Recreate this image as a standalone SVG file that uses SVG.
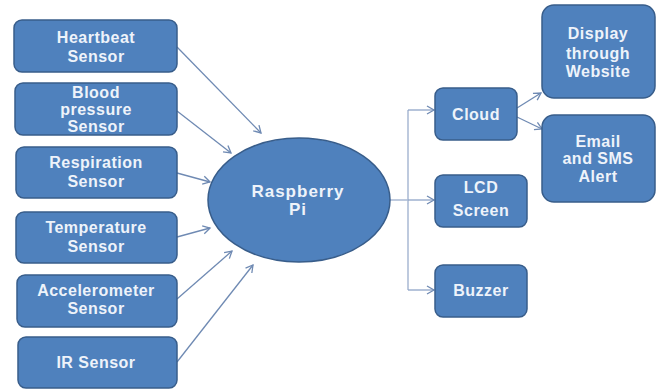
<svg xmlns="http://www.w3.org/2000/svg" width="662" height="390" viewBox="0 0 662 390">
<style>
.box{fill:#4f81bd;stroke:#385d8a;stroke-width:1.5}
.t{font-family:"Liberation Sans",Arial,sans-serif;font-weight:bold;font-size:16px;letter-spacing:0.5px;fill:#eef3fa;text-anchor:middle}
.big{font-size:17px;letter-spacing:1px}
.c{stroke:#6f8ab3;stroke-width:1.3;fill:none;marker-end:url(#a)}
.c2{stroke:#a9b9d3;stroke-width:1.5;fill:none}
.c3{stroke:#8fa5c8;stroke-width:1.3;fill:none;marker-end:url(#a)}
</style>
<defs>
<marker id="a" markerWidth="10" markerHeight="10" refX="8" refY="5" orient="auto" markerUnits="userSpaceOnUse">
<path d="M1,1 L8,5 L1,9" fill="none" stroke="#6f8ab3" stroke-width="1.3"/>
</marker>
</defs>
<rect width="662" height="390" fill="#fff"/>
<g id="connectors">
<line class="c" x1="177" y1="47" x2="261" y2="133"/>
<line class="c" x1="177" y1="111" x2="231" y2="153"/>
<line class="c" x1="177" y1="173" x2="210" y2="182"/>
<line class="c" x1="177" y1="237" x2="210" y2="228"/>
<line class="c" x1="177" y1="299" x2="232" y2="251"/>
<line class="c" x1="177" y1="362" x2="253" y2="265"/>
<path class="c2" d="M390,200 H408 M408,110 V290"/>
<line class="c3" x1="408" y1="110" x2="434" y2="110"/>
<line class="c3" x1="408" y1="200" x2="434" y2="200"/>
<line class="c3" x1="408" y1="290" x2="434" y2="290"/>
<line class="c" x1="517" y1="108" x2="541" y2="93"/>
<line class="c" x1="517" y1="117" x2="542" y2="129"/>
</g>
<g id="heartbeat"><rect class="box" x="14" y="20" width="163" height="52" rx="8"/><text class="t" x="96" y="43">Heartbeat</text><text class="t" x="96" y="62">Sensor</text></g>
<g id="blood"><rect class="box" x="15" y="83" width="162" height="52" rx="8"/><text class="t" x="96" y="98">Blood</text><text class="t" x="96" y="115">pressure</text><text class="t" x="96" y="132">Sensor</text></g>
<g id="respiration"><rect class="box" x="16" y="147" width="161" height="51" rx="8"/><text class="t" x="96" y="168">Respiration</text><text class="t" x="96" y="187">Sensor</text></g>
<g id="temperature"><rect class="box" x="16" y="212" width="161" height="51" rx="8"/><text class="t" x="96" y="233">Temperature</text><text class="t" x="96" y="252">Sensor</text></g>
<g id="accelerometer"><rect class="box" x="17" y="275" width="160" height="52" rx="8"/><text class="t" x="96" y="296">Accelerometer</text><text class="t" x="96" y="314">Sensor</text></g>
<g id="ir"><rect class="box" x="18" y="337" width="159" height="51" rx="8"/><text class="t" x="96" y="368">IR Sensor</text></g>
<g id="raspberry"><ellipse class="box" cx="299" cy="200" rx="91" ry="62"/><text class="t big" x="298" y="197">Raspberry</text><text class="t big" x="298" y="215">Pi</text></g>
<g id="cloud"><rect class="box" x="435" y="88" width="82" height="52" rx="8"/><text class="t" x="476" y="120">Cloud</text></g>
<g id="lcd"><rect class="box" x="435" y="175" width="92" height="52" rx="8"/><text class="t" x="481" y="193">LCD</text><text class="t" x="481" y="216">Screen</text></g>
<g id="buzzer"><rect class="box" x="435" y="265" width="92" height="52" rx="8"/><text class="t" x="481" y="296">Buzzer</text></g>
<g id="display"><rect class="box" x="542" y="5" width="113" height="93" rx="12"/><text class="t" x="598" y="39">Display</text><text class="t" x="598" y="59">through</text><text class="t" x="598" y="77">Website</text></g>
<g id="email"><rect class="box" x="542" y="115" width="113" height="87" rx="12"/><text class="t" x="598" y="147">Email</text><text class="t" x="598" y="164">and SMS</text><text class="t" x="598" y="182">Alert</text></g>
</svg>
